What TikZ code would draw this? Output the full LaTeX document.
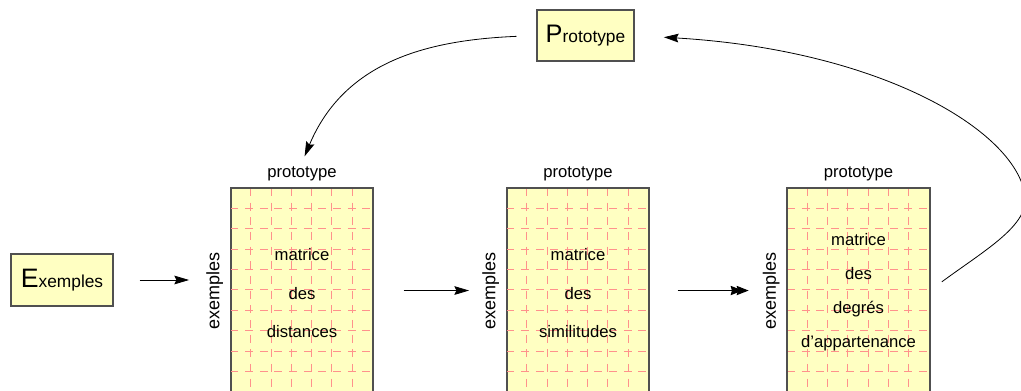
\documentclass[tikz,border=0pt]{standalone}
\usepackage{fontspec}
\setmainfont{Liberation Sans}
\usetikzlibrary{arrows.meta}
\definecolor{jaune}{RGB}{255,255,194}
\definecolor{rose}{RGB}{255,145,140}
\definecolor{bord}{RGB}{80,80,80}
\tikzset{
	boite/.style={draw=bord, fill=jaune, line width=0.8pt, inner sep=0pt},
	grille/.style={rose, line width=0.75pt, dash pattern=on 6pt off 5pt},
	fleche/.style={-{Stealth[length=11pt,width=6.5pt,inset=1.5pt]}, line width=0.6pt},
	petit/.style={font=\fontsize{12.5}{15}\selectfont},
}
\begin{document}
\begin{tikzpicture}[x=0.75pt,y=-0.75pt]
		\useasboundingbox (0,0) rectangle (1021,391);
		% Draws the two yellow boxes with a big first letter
		\node [boite, minimum width=76.5pt, minimum height=39pt] (ex) at (62,280) {{\fontsize{20}{20}\selectfont E}{\fontsize{13}{13}\selectfont xemples}};
		\node [boite, minimum width=72.75pt, minimum height=38.25pt] (proto) at (585.5,35.5) {{\fontsize{19}{19}\selectfont P}{\fontsize{13}{13}\selectfont rototype}};
		% Draws the three matrices with their dashed grid and their labels
		\foreach \m/\x in {m1/302, m2/578, m3/858.5} {
			\node [boite, minimum width=106.5pt, minimum height=153pt, anchor=north] (\m) at (\x,188) {};
			\foreach \i in {1,...,6} \draw [grille] ([xshift=\i*15.21pt]\m.north west) -- ([xshift=\i*15.21pt]\m.south west);
			\foreach \j in {1,...,9} \draw [grille] ([yshift=-\j*15.3pt]\m.north west) -- ([yshift=-\j*15.3pt]\m.north east);
			\draw [bord, line width=0.8pt] (\m.south west) rectangle (\m.north east);
			\node [petit, anchor=base] (p\m) at ([yshift=7.5pt]\m.north) {prototype};
			\node [rotate=90, anchor=base, font=\fontsize{13.5}{16}\selectfont] (e\m) at ([xshift=-8.25pt]\m.west) {exemples};
		}
		% Prints the text inside each matrix
		\node [font=\fontsize{12.5}{29}\selectfont, align=center] (t1) at ([yshift=-2pt]m1) {matrice\\des\\distances};
		\node [font=\fontsize{12.5}{29}\selectfont, align=center] (t2) at ([yshift=-2pt]m2) {matrice\\des\\similitudes};
		\node [font=\fontsize{12.5}{25.5}\selectfont, align=center] (t3) at ([yshift=-1pt]m3) {matrice\\des\\degrés\\d'appartenance};
		% Straight arrows from left to right
		\draw [fleche, shorten <=19.5pt, shorten >=9.5pt] (ex.east) -- (ex.east -| em1.north);
		\draw [fleche, shorten <=22.5pt, shorten >=6.5pt] (m1.east) -- (m1.east -| em2.north);
		\draw [-{Stealth[length=9pt,width=7pt,inset=1pt,sep=-4.5pt]Stealth[length=9pt,width=7pt,inset=1pt]}, line width=0.8pt, shorten <=21pt, shorten >=7.2pt] (m2.east) -- (m2.east -| em3.north);
		% Curved arrows going through the prototype
		\draw [fleche, shorten <=15pt, shorten >=5pt] (proto.west) .. controls (430,40) and (345,60) .. (pm1.north);
		\coordinate (coude) at (1025,195);
		\draw [fleche, shorten <=11pt, shorten >=22pt] (m3.east) .. controls (985,250) and (1030,225) .. (coude) .. controls (1015,130) and (880,50) .. (proto.east);
\end{tikzpicture}
\end{document}
